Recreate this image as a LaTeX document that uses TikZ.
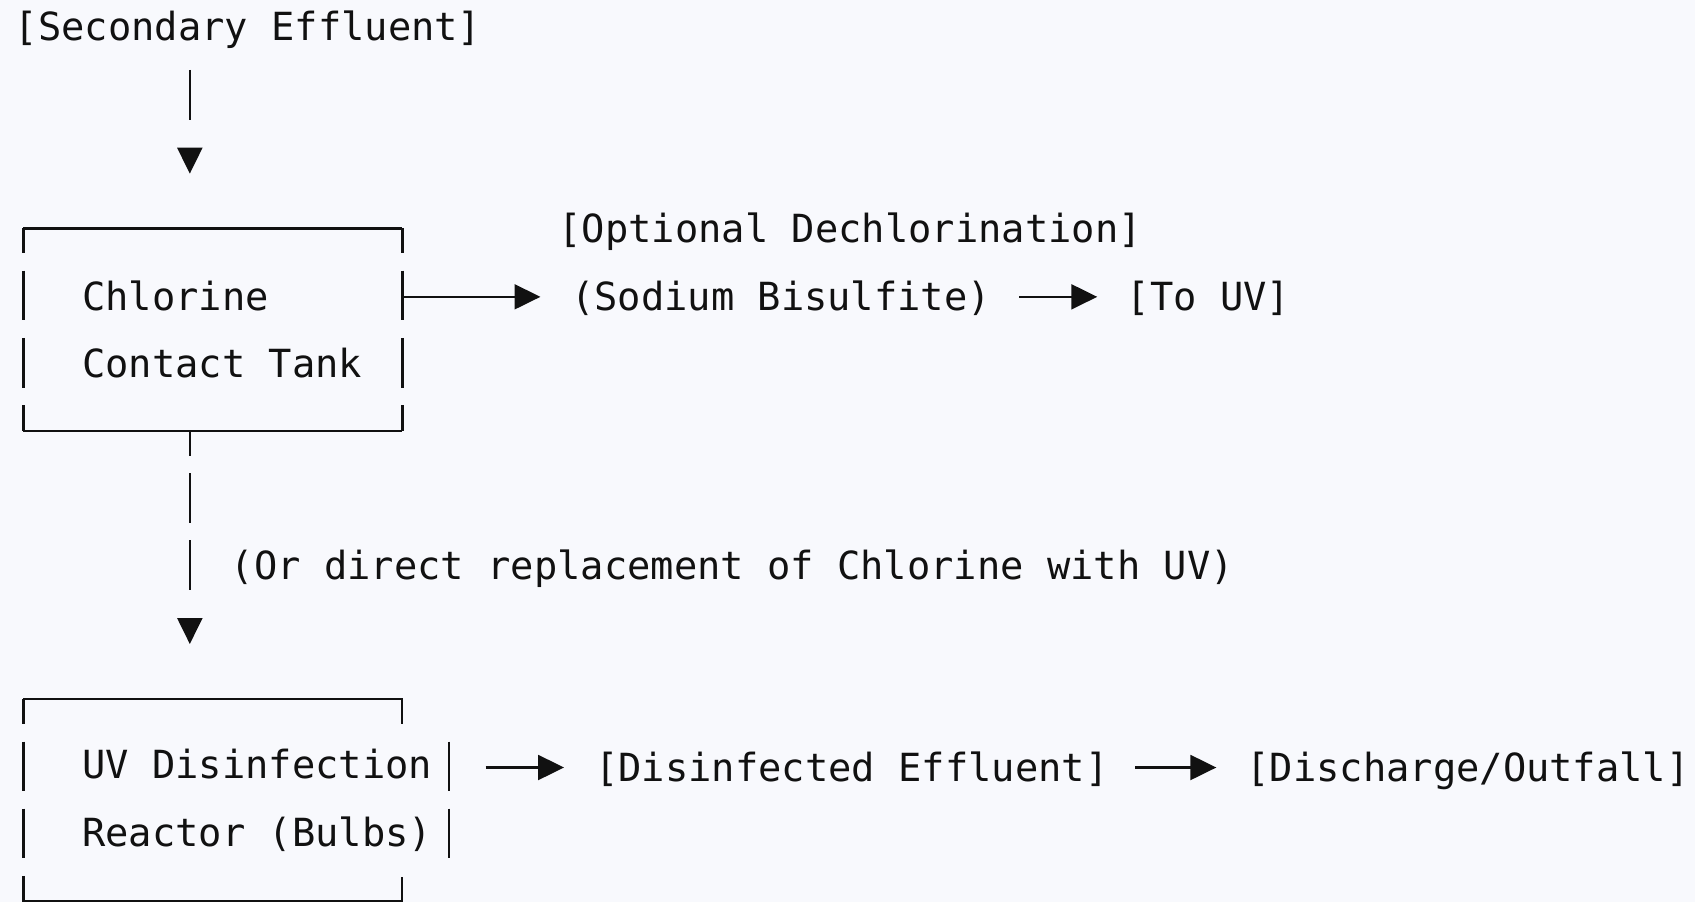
\documentclass[tikz,border=0pt]{standalone}
\usepackage{fontspec}
\newfontfamily\monofont{DejaVu Sans Mono}
\usepackage{tikz}
\usetikzlibrary{arrows.meta, positioning, calc}
\definecolor{paper}{RGB}{248,249,253}
\definecolor{ink}{RGB}{17,17,17}
\newcommand{\flowfont}{\monofont\fontsize{20.4pt}{35.4pt}\selectfont}
\tikzstyle{txt} = [font=\flowfont, text=ink, inner sep=0pt, text height=18.8pt, text depth=4.1pt]
\tikzstyle{boxtext} = [font=\flowfont, text=ink, inner sep=0pt, align=left]
\tikzstyle{block} = [rectangle, inner sep=0pt, minimum height=3.732cm]
\tikzstyle{wall} = [draw=ink, line width=1.3pt]
\tikzstyle{side} = [dash pattern=on 0.92cm off 0.324cm, dash phase=0.46cm]
\tikzstyle{arrow} = [draw=ink, line width=1.3pt, -{Triangle[length=0.48cm, width=0.46cm]}]

\begin{document}
\begin{tikzpicture}[x=0.02cm, y=-0.02cm, node distance=2.5cm]
	\fill[paper] (0,0) rectangle (1568,834);
	\useasboundingbox (0,0) rectangle (1568,834);
	\coordinate (drop) at (175.6,0);

	\node[txt] (src) at (229.5,25) {[Secondary Effluent]};

	\node[block, minimum width=7cm] (tank) at (197,304.9) {};
	\node[boxtext, anchor=west] (tanktext) at ($(tank.west)+(54,0)$) {Chlorine\\Contact Tank};

	\node[txt] (dechlor) at (786.5,211.6) {[Optional Dechlorination]};
	\node[txt] (sodium) at (722.5,274.6) {(Sodium Bisulfite)};
	\node[txt, right=of sodium] (touv) {[To UV]};

	\node[txt] (ordirect) at (677.5,523.6) {(Or direct replacement of Chlorine with UV)};

	\node[block, minimum width=7.86cm] (uv) at (218.5,740.4) {};
	\node[boxtext, anchor=west] (uvtext) at ($(uv.west)+(54,0)$) {UV Disinfection\\Reactor (Bulbs)};

	\node[txt] (disinf) at (788,710) {[Disinfected Effluent]};
	\node[txt, right=2.54cm of disinf] (outfall) {[Discharge/Outfall]};

	% tank outline
	\draw[wall] (tank.north west) -- (tank.north east);
	\draw[wall] (tank.south west) -- (tank.south east);
	\draw[wall, side] (tank.north west) -- (tank.south west);
	\draw[wall, side] (tank.north east) -- (tank.south east);

	% reactor outline
	\draw[wall] (uv.north west) -- ++(350,0) -- ++(0,23);
	\draw[wall] (uv.south west) -- ++(350,0) -- ++(0,-23);
	\draw[wall, side] (uv.north west) -- (uv.south west);
	\draw[wall, dash pattern=on 0pt off 0.784cm on 0.92cm off 0.324cm on 0.92cm off 2cm] (uv.north east) -- (uv.south east);

	% flow
	\draw[arrow, dash pattern=on 0.92cm off 2cm, shorten <=0.382cm, shorten >=1.012cm] (src.south -| drop) -- (tank.north -| drop);
	\draw[arrow, dash pattern=on 0.46cm off 0.324cm on 0.92cm off 0.324cm on 0.92cm off 2cm, shorten >=1.02cm] (tank.south -| drop) -- (uv.north -| drop);
	\draw[arrow, shorten >=0.56cm] (tank.east |- sodium.west) -- (sodium.west);
	\draw[arrow, shorten <=0.52cm, shorten >=0.54cm] (sodium.east) -- (touv.west);
	\draw[arrow, shorten <=0.68cm, shorten >=0.57cm] (uv.east |- disinf.west) -- (disinf.west);
	\draw[arrow, shorten <=0.49cm, shorten >=0.55cm] (disinf.east) -- (outfall.west);
\end{tikzpicture}
\end{document}
